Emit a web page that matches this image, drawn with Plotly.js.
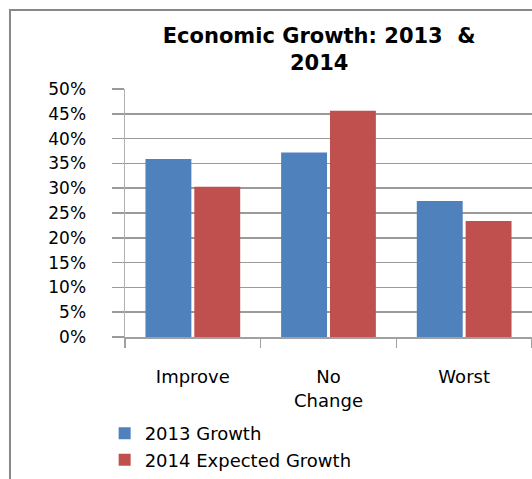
<!DOCTYPE html>
<html>
<head>
<meta charset="utf-8">
<script src="https://cdn.plot.ly/plotly-3.0.1.min.js"></script>
<style>html,body{margin:0;padding:0;background:#fff;}#chart{width:532px;height:479px;}</style>
</head>
<body>
<div id="chart"></div>
<script>
const categories = ["Improve", "No<br>Change", "Worst"];
const growth2013 = [0.359, 0.372, 0.274];
const growth2014 = [0.303, 0.456, 0.234];
const seriesNames = ["2013 Growth", "2014 Expected Growth"];
const yTicks = [0, 0.05, 0.10, 0.15, 0.20, 0.25, 0.30, 0.35, 0.40, 0.45, 0.50];

const font = "DejaVu Sans, Verdana, sans-serif";
const traces = [
  {type: "bar", name: seriesNames[0], x: categories, y: growth2013, marker: {color: "#4F81BD"}},
  {type: "bar", name: seriesNames[1], x: categories, y: growth2014, marker: {color: "#C0504D"}}
];
const layout = {
  width: 532, height: 479,
  margin: {l: 125, r: 0, t: 89, b: 142},
  paper_bgcolor: "#fff", plot_bgcolor: "#fff",
  barmode: "group", bargap: 0.28, bargroupgap: 0.06,
  title: {text: "<b>Economic Growth: 2013  &<br>2014</b>", font: {family: font, size: 21, color: "#000"},
          x: 0.6, xref: "container", xanchor: "center", y: 0.91, yref: "container", yanchor: "top"},
  xaxis: {type: "category", showgrid: false, showline: true, linecolor: "#a0a0a0", linewidth: 1.5,
          ticks: "outside", tickson: "boundaries", ticklen: 9, tickcolor: "#a0a0a0", tickwidth: 1.5,
          tickfont: {family: font, size: 18, color: "#000"}, ticklabelstandoff: 23},
  yaxis: {range: [0, 0.5], tickvals: yTicks, tickformat: ".0%", showgrid: true, gridcolor: "#9a9a9a", gridwidth: 1.5,
          zeroline: false, showline: true, linecolor: "#b0b0b0", linewidth: 1.5,
          ticks: "outside", ticklen: 12, tickcolor: "#9a9a9a", tickwidth: 1.5,
          tickfont: {family: font, size: 17, color: "#000"}, ticklabelstandoff: 22},
  legend: {orientation: "v", x: -0.05, xanchor: "left", y: -0.315, yanchor: "top",
           font: {family: font, size: 18, color: "#000"}, bgcolor: "rgba(0,0,0,0)", tracegroupgap: 0},
  showlegend: true,
  shapes: [{type: "rect", xref: "paper", yref: "paper", x0: -0.2826, x1: 1.5, y0: -1, y1: 1.3185,
            line: {color: "#888", width: 2}, fillcolor: "rgba(0,0,0,0)", layer: "below"}]
};
Plotly.newPlot("chart", traces, layout, {displayModeBar: false, staticPlot: true});
</script>
</body>
</html>
